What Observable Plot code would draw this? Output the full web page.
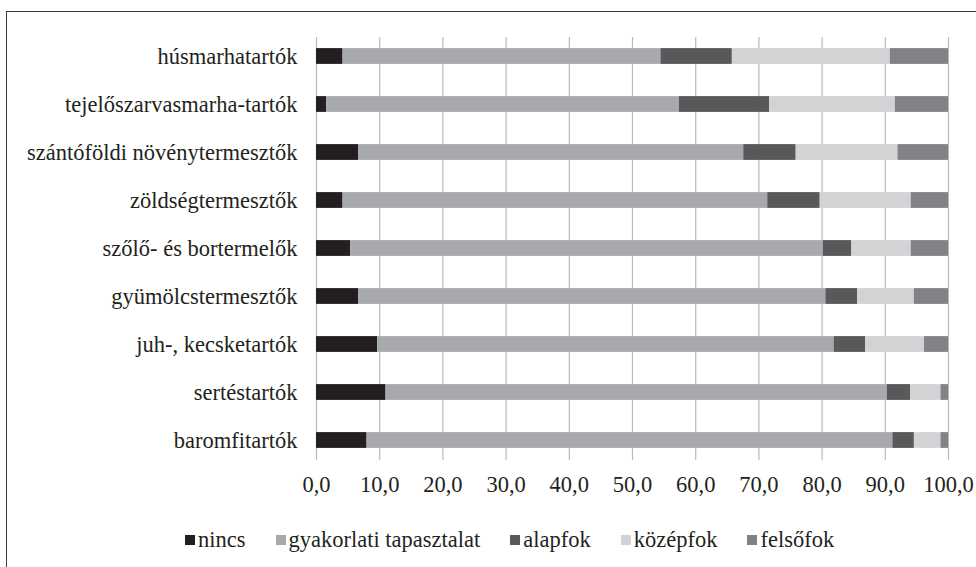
<!DOCTYPE html>
<html>
<head>
<meta charset="utf-8">
<script src="https://cdn.jsdelivr.net/npm/d3@7"></script>
<script src="https://cdn.jsdelivr.net/npm/@observablehq/plot@0.6"></script>
<style>
  html, body { margin: 0; padding: 0; background: #fff; overflow: hidden; width: 976px; height: 567px; }
  #frame { position: absolute; left: 6px; top: 11px; width: 1100px; height: 700px; border: 1.5px solid #3a3a3a; box-sizing: border-box; }
  #chart { position: absolute; left: 0; top: 0; }
  #legend { position: absolute; left: 185px; top: 527px; display: flex; align-items: center; font-family: 'Liberation Serif', 'Times New Roman', serif; font-size: 22.5px; color: #231f20; }
  .item { display: flex; align-items: center; margin-right: 30px; }
  .sw { width: 10px; height: 10px; margin-right: 3px; }
</style>
</head>
<body>
<div id="frame"></div>
<div id="chart"></div>
<div id="legend"></div>
<script>
const categories = ["húsmarhatartók", "tejelőszarvasmarha-tartók", "szántóföldi növénytermesztők", "zöldségtermesztők", "szőlő- és bortermelők", "gyümölcstermesztők", "juh-, kecsketartók", "sertéstartók", "baromfitartók"];
const levels = ["nincs", "gyakorlati tapasztalat", "alapfok", "középfok", "felsőfok"];
const colors = ["#231f20", "#a7a9ac", "#58595b", "#d1d3d4", "#808285"];
const nincs =      [4.2, 1.6, 6.7, 4.2, 5.4, 6.7, 9.7, 11.0, 8.0];
const gyakorlati = [50.3, 55.8, 60.9, 67.2, 74.8, 73.9, 72.2, 79.3, 83.2];
const alapfok =    [11.3, 14.3, 8.3, 8.3, 4.5, 5.0, 5.0, 3.7, 3.4];
const kozepfok =   [25.0, 19.9, 16.1, 14.4, 9.4, 9.0, 9.3, 4.8, 4.2];
const felsofok =   [9.2, 8.4, 8.0, 5.9, 5.9, 5.4, 3.8, 1.2, 1.2];
const xTicks = [0, 10, 20, 30, 40, 50, 60, 70, 80, 90, 100];

const series = [nincs, gyakorlati, alapfok, kozepfok, felsofok];
const data = [];
categories.forEach((c, i) => {
  levels.forEach((l, j) => data.push({category: c, level: l, value: series[j][i]}));
});

const fmt = d => d.toFixed(1).replace(".", ",");

const chart = Plot.plot({
  width: 976,
  height: 500,
  marginLeft: 316,
  marginRight: 28,
  marginTop: 31,
  marginBottom: 35,
  style: {fontFamily: "'Liberation Serif', 'Times New Roman', serif", fontSize: "22.5px", color: "#231f20", background: "transparent", overflow: "visible"},
  x: {domain: [0, 100], ticks: xTicks},
  y: {domain: categories, padding: 0},
  color: {domain: levels, range: colors},
  marks: [
    Plot.gridX(xTicks, {stroke: "#b8babc", strokeOpacity: 1, strokeWidth: 1.2, insetTop: 6, insetBottom: 5}),
    Plot.barX(data, Plot.stackX({x: "value", y: "category", fill: "level", insetTop: 16.1, insetBottom: 16.1})),
    Plot.axisX(xTicks, {tickSize: 0, tickPadding: 11, tickFormat: fmt, label: null, fontSize: 22.5}),
    Plot.axisY({tickSize: 0, tickPadding: 19, label: null, fontSize: 22.5})
  ]
});
document.getElementById("chart").appendChild(chart);

const legend = document.getElementById("legend");
levels.forEach((l, i) => {
  const it = document.createElement("div");
  it.className = "item";
  const sw = document.createElement("div");
  sw.className = "sw";
  sw.style.background = colors[i];
  const tx = document.createElement("span");
  tx.textContent = l;
  it.appendChild(sw);
  it.appendChild(tx);
  legend.appendChild(it);
});
</script>
</body>
</html>
